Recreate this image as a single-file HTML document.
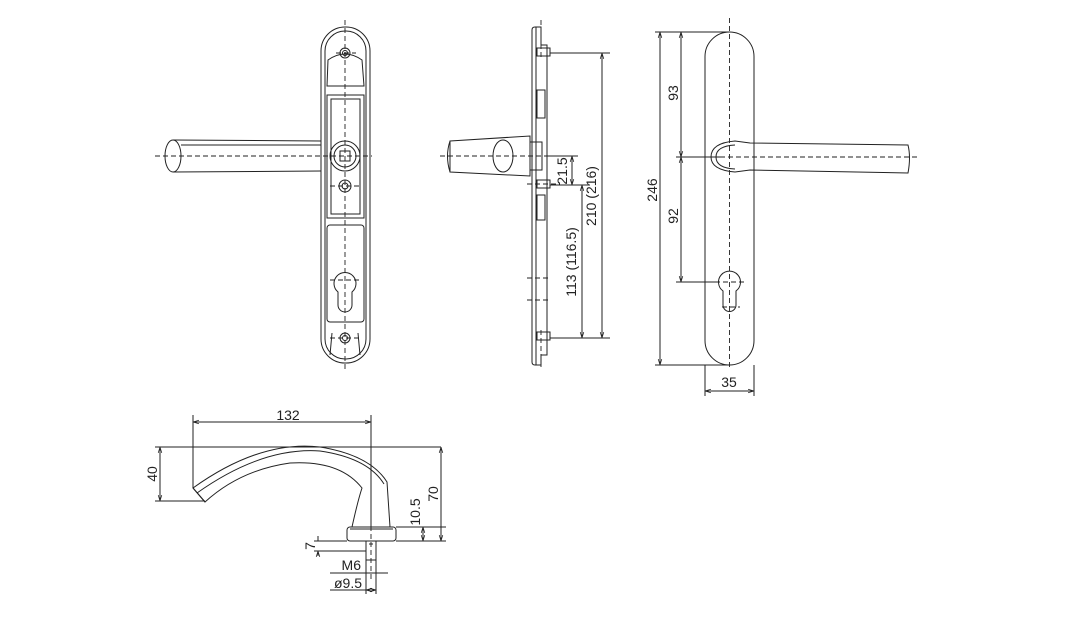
<!DOCTYPE html>
<html><head><meta charset="utf-8"><style>
html,body{margin:0;padding:0;background:#fff;width:1066px;height:618px;overflow:hidden}
svg{display:block}
text{font-family:"Liberation Sans",sans-serif;font-size:14px;fill:#222}
</style></head><body>
<svg width="1066" height="618" viewBox="0 0 1066 618" xmlns="http://www.w3.org/2000/svg">
<defs>
<marker id="a" viewBox="0 0 10 10" refX="10" refY="5" markerWidth="6" markerHeight="6" orient="auto-start-reverse"><path d="M0,2 L10,5 L0,8" fill="none" stroke="#222" stroke-width="1.2"/></marker>
</defs>
<g fill="none" stroke="#222" stroke-width="1">
<!-- LEFT FRONT VIEW -->
<rect x="321" y="27" width="49" height="336" rx="24"/>
<rect x="325" y="31" width="41" height="328" rx="20"/>
<path d="M328 60 Q345 48 362 60 L364 86 L327 86 Z"/>
<circle cx="345" cy="53" r="5"/><circle cx="345" cy="53" r="2.5"/>
<rect x="327" y="95" width="37" height="123"/>
<rect x="331" y="99" width="29" height="115"/>
<circle cx="345" cy="156" r="15"/><circle cx="345" cy="156" r="11"/>
<rect x="340" y="151" width="10" height="10"/>
<circle cx="345" cy="186" r="6"/><circle cx="345" cy="186" r="3"/>
<rect x="327" y="225" width="37" height="97" rx="3"/>
<path d="M338 292 A11 11 0 1 1 352 292 L352 305 A7 7 0 0 1 338 305 Z"/>
<circle cx="345" cy="338" r="5"/><circle cx="345" cy="338" r="2.5"/>
<path d="M332 333 L330 355 M358 333 L360 355"/>
<ellipse cx="173" cy="156" rx="8" ry="16"/>
<path d="M173 140 L321 141 M173 172 L321 171 M181 145 L321 145"/>
<g stroke-dasharray="5,3" stroke-width="0.9">
<path d="M155 156 L372 156 M345 20 L345 370 M330 186 L362 186 M330 280 L360 280 M336 53 L356 53 M330 338 L362 338"/>
</g>
<!-- MIDDLE SIDE VIEW -->
<path d="M532 30 Q532 27 535 27 L541 27 L541 45 L547 45 L547 355 L541 355 L541 365 L535 365 Q532 365 532 362 Z"/>
<path d="M536 27 L536 365"/>
<rect x="537" y="48" width="13" height="8"/><rect x="537" y="180" width="13" height="8"/><rect x="537" y="332" width="13" height="8"/>
<rect x="537" y="90" width="8" height="28"/><rect x="537" y="195" width="8" height="25"/>
<path d="M450 141 L530 136 L530 176 L450 172 Z"/>
<path d="M450 141 Q445 156 450 172"/>
<ellipse cx="503" cy="156" rx="10" ry="16"/>
<rect x="530" y="142" width="12" height="28"/>
<g stroke-dasharray="5,3" stroke-width="0.9"><path d="M440 156 L560 156 M541 20 L541 60 M541 330 L541 368 M527 184 L560 184 M527 278 L548 278 M527 300 L548 300"/></g>
<path d="M550 53 L610 53 M550 338 L610 338 M550 185 L590 185 M545 156 L578 156"/>
<path d="M602 53 L602 338" marker-start="url(#a)" marker-end="url(#a)"/>
<path d="M582 185 L582 338" marker-start="url(#a)" marker-end="url(#a)"/>
<path d="M572 156 L572 185" marker-start="url(#a)" marker-end="url(#a)"/>
<!-- RIGHT VIEW -->
<rect x="705" y="32" width="49" height="333" rx="24.5"/>
<path d="M908 145 Q911 157 908 173 L750 170 L735 172 Q711 170 711 157 Q711 143 735 141 L750 143 Z"/>
<path d="M735 145 Q716 146 716 157 Q716 168 735 169"/>
<path d="M723 291 A11 11 0 1 1 736 291 L736 305 A6.5 6.5 0 0 1 723 305 Z"/>
<g stroke-dasharray="5,3" stroke-width="0.9"><path d="M729.5 18 L729.5 368 M720 157 L920 157 M715 282 L746 282 M722 307 L740 307"/></g>
<path d="M655 32 L729 32 M655 365 L729 365 M676 157 L720 157 M676 282 L715 282 M705 365 L705 396 M754 365 L754 396"/>
<path d="M660 32 L660 365" marker-start="url(#a)" marker-end="url(#a)"/>
<path d="M681 32 L681 157" marker-start="url(#a)" marker-end="url(#a)"/>
<path d="M681 157 L681 282" marker-start="url(#a)" marker-end="url(#a)"/>
<path d="M705 391 L754 391" marker-start="url(#a)" marker-end="url(#a)"/>
<!-- BOTTOM HANDLE -->
<path d="M193 488 Q260 440 320 447 Q370 455 387 482 L390 527 L352 527 Q358 500 362 488 Q340 460 290 463 Q240 470 205 502 Z"/>
<path d="M197 493 Q262 447 320 451 Q368 458 384 484"/>
<path d="M205 502 L193 488"/>
<rect x="347" y="527" width="49" height="14" rx="3"/>
<path d="M350 529 L393 529"/>
<rect x="366" y="541" width="10" height="19"/>
<path d="M369 544 L373 544"/>
<g stroke-dasharray="5,3" stroke-width="0.9"><path d="M371 430 L371 580"/></g>
<path d="M193 415 L193 488 M371 415 L371 527 M155 447 L441 447 M155 501 L205 501 M396 527 L446 527 M396 541 L446 541 M314 541 L347 541 M314 551 L366 551 M330 573 L388 573 M330 590 L376 590 M366 560 L366 594 M376 560 L376 594"/>
<path d="M193 422 L371 422" marker-start="url(#a)" marker-end="url(#a)"/>
<path d="M160 447 L160 501" marker-start="url(#a)" marker-end="url(#a)"/>
<path d="M441 447 L441 541" marker-start="url(#a)" marker-end="url(#a)"/>
<path d="M423 527 L423 541" marker-start="url(#a)" marker-end="url(#a)"/>
<path d="M318 536 L318 541 M318 556 L318 551" marker-end="url(#a)"/>
<path d="M366 590 L376 590" marker-start="url(#a)" marker-end="url(#a)"/>
</g>
<!-- TEXT -->
<text x="596" y="196" transform="rotate(-90 596 196)" text-anchor="middle">210 (216)</text>
<text x="576" y="262" transform="rotate(-90 576 262)" text-anchor="middle">113 (116.5)</text>
<text x="567" y="171" transform="rotate(-90 567 171)" text-anchor="middle">21.5</text>
<text x="657" y="190" transform="rotate(-90 657 190)" text-anchor="middle">246</text>
<text x="678" y="93" transform="rotate(-90 678 93)" text-anchor="middle">93</text>
<text x="678" y="216" transform="rotate(-90 678 216)" text-anchor="middle">92</text>
<text x="729" y="387" text-anchor="middle">35</text>
<text x="288" y="420" text-anchor="middle">132</text>
<text x="157" y="474" transform="rotate(-90 157 474)" text-anchor="middle">40</text>
<text x="438" y="494" transform="rotate(-90 438 494)" text-anchor="middle">70</text>
<text x="420" y="512" transform="rotate(-90 420 512)" text-anchor="middle">10.5</text>
<text x="315" y="546" transform="rotate(-90 315 546)" text-anchor="middle">7</text>
<text x="361" y="570" text-anchor="end">M6</text>
<text x="362" y="588" text-anchor="end">ø9.5</text>
</svg>
</body></html>
